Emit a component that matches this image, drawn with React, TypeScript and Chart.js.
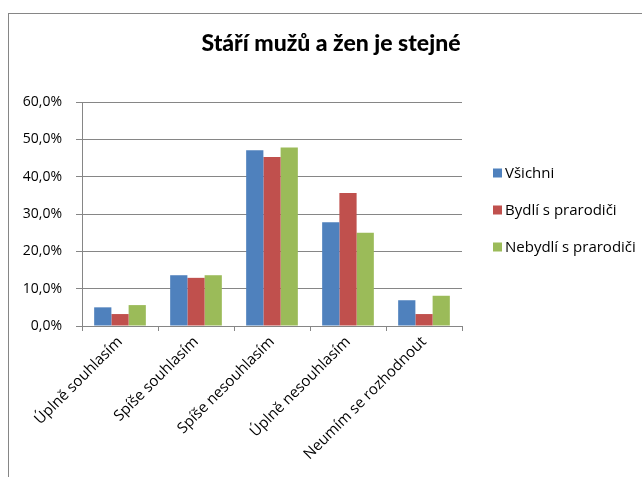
import React, { useEffect, useRef } from "react";
import { Chart, registerables } from "chart.js";

Chart.register(...registerables);

const categories = [
  "Úplně souhlasím",
  "Spíše souhlasím",
  "Spíše nesouhlasím",
  "Úplně nesouhlasím",
  "Neumím se rozhodnout",
];
const seriesNames = ["Všichni", "Bydlí s prarodiči", "Nebydlí s prarodiči"];
const vsichni = [5.0, 13.6, 47.1, 27.8, 6.9];
const bydli = [3.2, 12.9, 45.3, 35.6, 3.2];
const nebydli = [5.6, 13.6, 47.8, 25.0, 8.1];
const colors = ["#4F81BD", "#C0504D", "#9BBB59"];
const titleText = "Stáří mužů a žen je stejné";

const FONT = "'Open Sans', sans-serif";
const TITLE_FONT = "Lato, sans-serif";

const framePlugin = {
  id: "frame",
  beforeDraw(chart: any) {
    const ctx = chart.ctx;
    ctx.save();
    ctx.fillStyle = "#ffffff";
    ctx.fillRect(0, 0, chart.width, chart.height);
    ctx.strokeStyle = "#868686";
    ctx.lineWidth = 1;
    ctx.strokeRect(8.5, 13.5, chart.width + 10, chart.height + 10);
    ctx.restore();
  },
  afterDraw(chart: any) {
    const ctx = chart.ctx;
    ctx.save();
    // title
    ctx.fillStyle = "#000000";
    ctx.font = `900 23px ${TITLE_FONT}`;
    ctx.textAlign = "center";
    ctx.textBaseline = "alphabetic";
    ctx.fillText(titleText, 331, 51);
    // legend
    ctx.font = `15px ${FONT}`;
    ctx.textAlign = "left";
    ctx.textBaseline = "middle";
    chart.data.datasets.forEach((ds: any, i: number) => {
      const y = 173 + i * 37;
      ctx.fillStyle = ds.backgroundColor;
      ctx.fillRect(493, y - 4.5, 9, 9);
      ctx.fillStyle = "#000000";
      ctx.fillText(ds.label, 505, y + 1);
    });
    ctx.restore();
  },
};

export default function App() {
  const ref = useRef<HTMLCanvasElement>(null);
  useEffect(() => {
    const chart = new Chart(ref.current!, {
      type: "bar",
      data: {
        labels: categories,
        datasets: [vsichni, bydli, nebydli].map((d, i) => ({
          label: seriesNames[i],
          data: d,
          backgroundColor: colors[i],
          categoryPercentage: 0.68,
          barPercentage: 1,
        })),
      },
      options: {
        animation: false,
        responsive: false,
        layout: { padding: { left: 0, right: 180, top: 102, bottom: 0 } },
        plugins: {
          legend: { display: false },
          title: { display: false },
          tooltip: { enabled: false },
        },
        scales: {
          x: {
            afterFit(scale: any) {
              scale.height = 151;
            },
            grid: {
              display: true,
              drawOnChartArea: false,
              drawTicks: true,
              tickLength: 5,
              color: "#868686",
              offset: true,
            },
            border: { color: "#868686" },
            ticks: {
              maxRotation: 45,
              minRotation: 45,
              autoSkip: false,
              color: "#000000",
              font: { family: FONT, size: 15 },
              padding: 2,
            },
          },
          y: {
            min: 0,
            max: 60,
            afterFit(scale: any) {
              scale.width = 82;
            },
            grid: { color: "#868686", tickLength: 6 },
            border: { color: "#868686" },
            ticks: {
              stepSize: 10,
              color: "#000000",
              font: { family: FONT, size: 14 },
              padding: 14,
              callback: (v: any) => Number(v).toFixed(1).replace(".", ",") + "%",
            },
          },
        },
      },
      plugins: [framePlugin],
    });
    return () => chart.destroy();
  }, []);
  return (
    <canvas
      ref={ref}
      width={642}
      height={477}
      style={{ position: "fixed", left: 0, top: 0, width: 642, height: 477 }}
    />
  );
}
